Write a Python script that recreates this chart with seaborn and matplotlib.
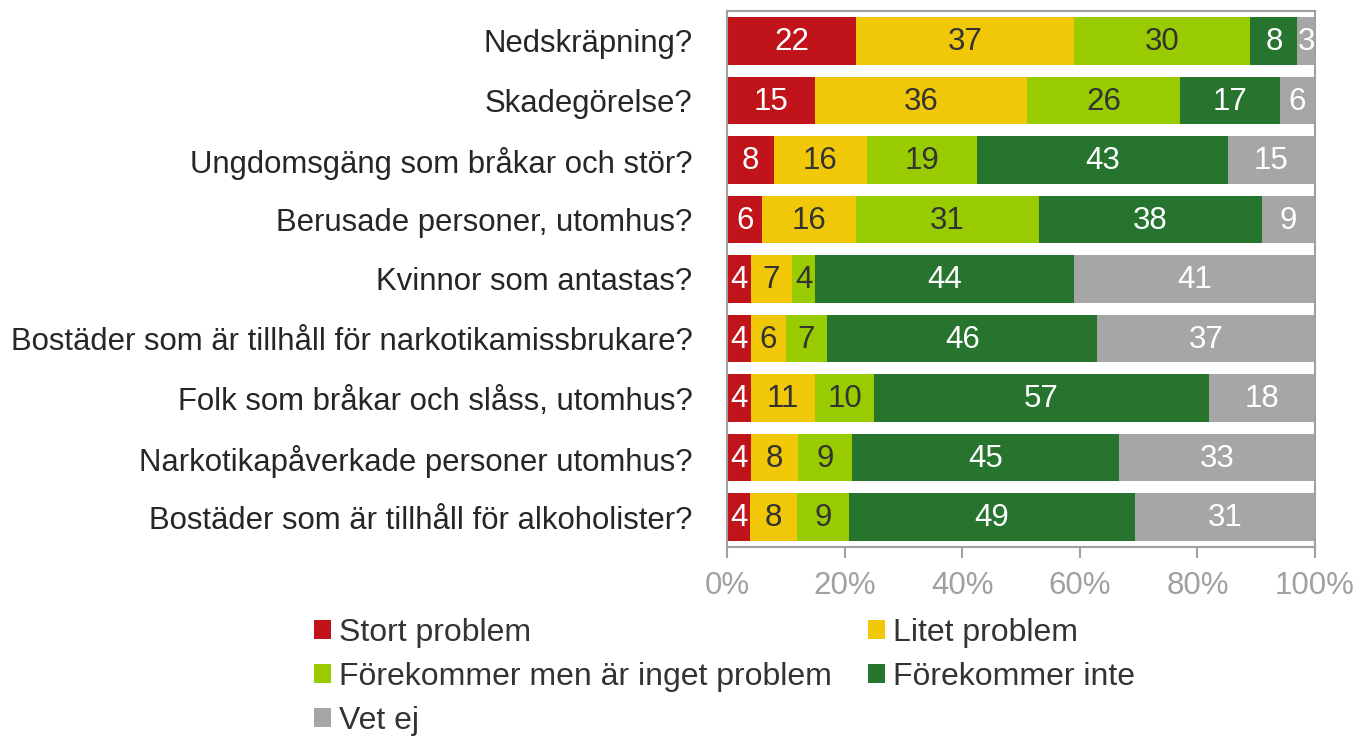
import matplotlib
matplotlib.use("Agg")
import matplotlib.pyplot as plt
import seaborn as sns
import pandas as pd
import numpy as np
from matplotlib.patches import Patch

categories = [
    "Nedskräpning?",
    "Skadegörelse?",
    "Ungdomsgäng som bråkar och stör?",
    "Berusade personer, utomhus?",
    "Kvinnor som antastas?",
    "Bostäder som är tillhåll för narkotikamissbrukare?",
    "Folk som bråkar och slåss, utomhus?",
    "Narkotikapåverkade personer utomhus?",
    "Bostäder som är tillhåll för alkoholister?",
]
series_names = ["Stort problem", "Litet problem", "Förekommer men är inget problem",
                "Förekommer inte", "Vet ej"]
stort = [22, 15, 8, 6, 4, 4, 4, 4, 4]
litet = [37, 36, 16, 16, 7, 6, 11, 8, 8]
forekommer_men = [30, 26, 19, 31, 4, 7, 10, 9, 9]
forekommer_inte = [8, 17, 43, 38, 44, 46, 57, 45, 49]
vet_ej = [3, 6, 15, 9, 41, 37, 18, 33, 31]
x_ticks = [0, 20, 40, 60, 80, 100]
x_tick_labels = ["0%", "20%", "40%", "60%", "80%", "100%"]

colors = ["#C0141A", "#F0C808", "#99CC00", "#26742E", "#A6A6A6"]
label_colors = ["white", "#333333", "#333333", "white", "white"]

sns.set_theme(style="white")
plt.rcParams["font.family"] = ["Liberation Sans", "DejaVu Sans"]

values = np.array([stort, litet, forekommer_men, forekommer_inte, vet_ej], dtype=float)
pct = values / values.sum(axis=0) * 100
cum = np.cumsum(pct, axis=0)

fig = plt.figure(figsize=(13.57, 7.38), dpi=100)
ax = fig.add_axes([727 / 1357, 1 - 547 / 738, (1315 - 727) / 1357, (547 - 11) / 738])

for i in range(len(series_names) - 1, -1, -1):
    df = pd.DataFrame({"cat": categories, "val": cum[i]})
    sns.barplot(data=df, x="val", y="cat", orient="h", color=colors[i],
                saturation=1, width=0.8, linewidth=0, ax=ax)

for i in range(len(series_names)):
    for j in range(len(categories)):
        center = cum[i][j] - pct[i][j] / 2
        ax.text(center, j + 0.02, f"{int(values[i][j])}", ha="center", va="center",
                fontsize=22.5, color=label_colors[i])

ax.set_xlim(0, 100)
ax.set_ylim(len(categories) - 0.5, -0.5)
ax.set_xlabel("")
ax.set_ylabel("")
ax.set_xticks(x_ticks)
ax.set_xticklabels(x_tick_labels)
spine_color = "#A0A0A0"
for s in ax.spines.values():
    s.set_visible(True)
    s.set_color(spine_color)
    s.set_linewidth(1.5)
ax.tick_params(axis="x", bottom=True, length=8, width=1.5, color=spine_color,
               labelcolor="#A0A0A0", labelsize=22.5, pad=9.5)
ax.tick_params(axis="y", left=False, labelcolor="#262626", labelsize=22.4, pad=19)

handles = [Patch(facecolor=c, edgecolor="none") for c in colors]
order = [0, 2, 4, 1, 3]
fig.legend([handles[k] for k in order], [series_names[k] for k in order],
           loc="upper left", bbox_to_anchor=(314 / 1357, 1 - 618 / 738),
           ncol=2, frameon=False, fontsize=23, labelcolor="#333333",
           handlelength=0.53, handleheight=0.53, handletextpad=0.25,
           columnspacing=1.13, labelspacing=0.44, borderpad=0, borderaxespad=0)

fig.savefig("out.png", dpi=100)
